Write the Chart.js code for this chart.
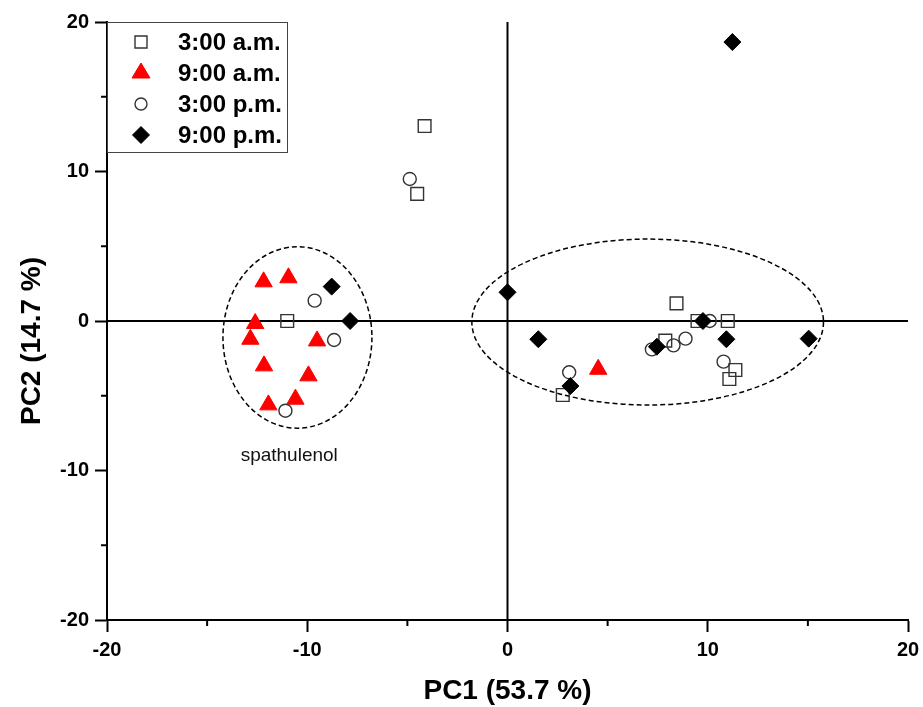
<!DOCTYPE html>
<html>
<head>
<meta charset="utf-8">
<script src="https://cdn.jsdelivr.net/npm/chart.js@4.4.1/dist/chart.umd.min.js"></script>
<style>
  html, body { margin: 0; padding: 0; background: #fff; }
  #chart { display: block; }
</style>
</head>
<body>
<canvas id="chart" width="923" height="707"></canvas>
<script>
// scores, one pair of arrays per sampling time
const am3X = [-11.0, -4.14, -4.51, 2.76, 8.44, 9.49, 11.0, 7.88, 11.38, 11.08];
const am3Y = [0.0, 13.04, 8.5, -4.95, 1.18, 0.0, 0.0, -1.31, -3.28, -3.88];

const am9X = [-12.18, -10.94, -12.6, -12.84, -9.51, -12.16, -9.94, -11.94, -10.59, 4.53];
const am9Y = [2.62, 2.89, -0.17, -1.22, -1.33, -3.0, -3.67, -5.61, -5.23, -3.23];

const pm3X = [-9.63, -8.66, -11.09, -4.88, 3.08, 7.21, 8.29, 8.89, 10.1, 10.79];
const pm3Y = [1.36, -1.27, -6.0, 9.5, -3.43, -1.9, -1.63, -1.18, 0.0, -2.72];

const pm9X = [-8.78, -7.86, 0.0, 1.54, 3.14, 7.46, 9.76, 10.93, 15.04, 11.23];
const pm9Y = [2.3, 0.0, 1.92, -1.22, -4.35, -1.72, 0.0, -1.22, -1.18, 18.66];

const seriesNames = ['3:00 a.m.', '9:00 a.m.', '3:00 p.m.', '9:00 p.m.'];

// dashed cluster ellipses (data units)
const ellCx = [-10.49, 7.0];
const ellCy = [-1.1, -0.07];
const ellRx = [3.72, 8.78];
const ellRy = [6.07, 5.55];

const noteText = 'spathulenol';
const noteX = -10.9;
const noteY = -9.0;

const xTicks = [-20, -10, 0, 10, 20];
const minorTicks = [-15, -5, 5, 15];

const FONT = "'Liberation Sans', Arial, sans-serif";

function pts(xs, ys) {
    return xs.map((x, i) => ({ x: x, y: ys[i] }));
}

const marks = [
    { style: 'rect', r: 9, fill: 'rgba(0,0,0,0)', stroke: '#333', w: 1.4 },
    { style: 'triangle', r: 10, fill: '#ff0000', stroke: '#ff0000', w: 1 },
    { style: 'circle', r: 6.5, fill: 'rgba(0,0,0,0)', stroke: '#333', w: 1.4 },
    { style: 'rectRot', r: 8.5, fill: '#000', stroke: '#000', w: 1 }
];
const allX = [am3X, am9X, pm3X, pm9X];
const allY = [am3Y, am9Y, pm3Y, pm9Y];

const datasets = seriesNames.map((name, i) => ({
    label: name,
    data: pts(allX[i], allY[i]),
    pointStyle: marks[i].style,
    pointRadius: marks[i].r,
    pointBackgroundColor: marks[i].fill,
    pointBorderColor: marks[i].stroke,
    pointBorderWidth: marks[i].w,
    showLine: false,
    order: 4 - i
}));

// zero lines, ellipses, minor ticks, legend box, y title
const extras = {
    id: 'extras',
    beforeDatasetsDraw(chart) {
        const ctx = chart.ctx;
        const xs = chart.scales.x, ys = chart.scales.y;
        const a = chart.chartArea;
        ctx.save();
        ctx.strokeStyle = '#000';
        ctx.lineWidth = 2;
        ctx.beginPath();
        ctx.moveTo(xs.getPixelForValue(0), a.top);
        ctx.lineTo(xs.getPixelForValue(0), a.bottom);
        ctx.moveTo(a.left, ys.getPixelForValue(0));
        ctx.lineTo(a.right, ys.getPixelForValue(0));
        ctx.stroke();

        ctx.lineWidth = 1.5;
        ctx.setLineDash([5, 3]);
        for (let i = 0; i < ellCx.length; i++) {
            const cx = xs.getPixelForValue(ellCx[i]);
            const cy = ys.getPixelForValue(ellCy[i]);
            const rx = Math.abs(xs.getPixelForValue(ellCx[i] + ellRx[i]) - cx);
            const ry = Math.abs(ys.getPixelForValue(ellCy[i] + ellRy[i]) - cy);
            ctx.beginPath();
            ctx.ellipse(cx, cy, rx, ry, 0, 0, Math.PI * 2);
            ctx.stroke();
        }
        ctx.setLineDash([]);

        // minor ticks
        ctx.lineWidth = 2;
        ctx.beginPath();
        minorTicks.forEach(v => {
            const px = xs.getPixelForValue(v);
            ctx.moveTo(px, a.bottom);
            ctx.lineTo(px, a.bottom + 6);
            const py = ys.getPixelForValue(v);
            ctx.moveTo(a.left, py);
            ctx.lineTo(a.left - 6, py);
        });
        ctx.stroke();

        ctx.fillStyle = '#111';
        ctx.font = '19px ' + FONT;
        ctx.textAlign = 'center';
        ctx.textBaseline = 'middle';
        ctx.fillText(noteText, xs.getPixelForValue(noteX), ys.getPixelForValue(noteY));
        ctx.restore();
    },
    afterDraw(chart) {
        const ctx = chart.ctx;
        const a = chart.chartArea;
        ctx.save();
        // legend
        const bx = a.left, by = a.top, bw = 180, bh = 130;
        ctx.fillStyle = '#fff';
        ctx.fillRect(bx, by, bw, bh);
        ctx.strokeStyle = '#444';
        ctx.lineWidth = 1;
        ctx.strokeRect(bx + 0.5, by + 0.5, bw, bh);
        const rows = [42, 73, 104, 135];
        seriesNames.forEach((name, i) => {
            const m = marks[i];
            const x = bx + 34, y = rows[i];
            ctx.beginPath();
            if (m.style === 'rect') {
                ctx.rect(x - 6, y - 6, 12, 12);
            } else if (m.style === 'triangle') {
                ctx.moveTo(x, y - 10);
                ctx.lineTo(x + 9, y + 5);
                ctx.lineTo(x - 9, y + 5);
                ctx.closePath();
            } else if (m.style === 'circle') {
                ctx.arc(x, y, 6, 0, Math.PI * 2);
            } else {
                ctx.moveTo(x, y - 8.5);
                ctx.lineTo(x + 8.5, y);
                ctx.lineTo(x, y + 8.5);
                ctx.lineTo(x - 8.5, y);
                ctx.closePath();
            }
            if (m.fill !== 'rgba(0,0,0,0)') {
                ctx.fillStyle = m.fill;
                ctx.fill();
            }
            ctx.strokeStyle = m.stroke;
            ctx.lineWidth = m.w;
            ctx.stroke();
            ctx.fillStyle = '#000';
            ctx.font = 'bold 24px ' + FONT;
            ctx.textAlign = 'left';
            ctx.textBaseline = 'middle';
            ctx.fillText(name, bx + 71, y + 1);
        });

        // y axis title
        ctx.translate(32, 341);
        ctx.rotate(-Math.PI / 2);
        ctx.fillStyle = '#000';
        ctx.font = 'bold 28px ' + FONT;
        ctx.textAlign = 'center';
        ctx.textBaseline = 'middle';
        ctx.fillText('PC2 (14.7 %)', 0, 0);
        ctx.restore();
    }
};

new Chart(document.getElementById('chart'), {
    type: 'scatter',
    data: { datasets: datasets },
    options: {
        responsive: false,
        animation: false,
        devicePixelRatio: 1,
        layout: { padding: { top: 22, right: 15, left: 0, bottom: 0 } },
        plugins: { legend: { display: false }, tooltip: { enabled: false } },
        scales: {
            x: {
                type: 'linear',
                min: -20, max: 20,
                afterFit: s => { s.height = 87; s.paddingLeft = 0; s.paddingRight = 0; },
                afterBuildTicks: s => { s.ticks = xTicks.map(v => ({ value: v })); },
                border: { display: true, color: '#000', width: 2 },
                grid: { drawOnChartArea: false, drawTicks: true, tickLength: 12, tickWidth: 2, tickColor: '#000' },
                ticks: { color: '#000', padding: 6, font: { family: FONT, size: 20, weight: 'bold' } },
                title: {
                    display: true, text: 'PC1 (53.7 %)', color: '#000',
                    padding: { top: 0, bottom: -1 },
                    font: { family: FONT, size: 28, weight: 'bold' }
                }
            },
            y: {
                type: 'linear',
                min: -20, max: 20,
                afterFit: s => { s.width = 107; s.paddingTop = 0; s.paddingBottom = 0; },
                afterBuildTicks: s => { s.ticks = xTicks.map(v => ({ value: v })); },
                border: { display: true, color: '#000', width: 2 },
                grid: { drawOnChartArea: false, drawTicks: true, tickLength: 12, tickWidth: 2, tickColor: '#000' },
                ticks: { color: '#000', padding: 6, font: { family: FONT, size: 20, weight: 'bold' } }
            }
        }
    },
    plugins: [extras]
});
</script>
</body>
</html>
